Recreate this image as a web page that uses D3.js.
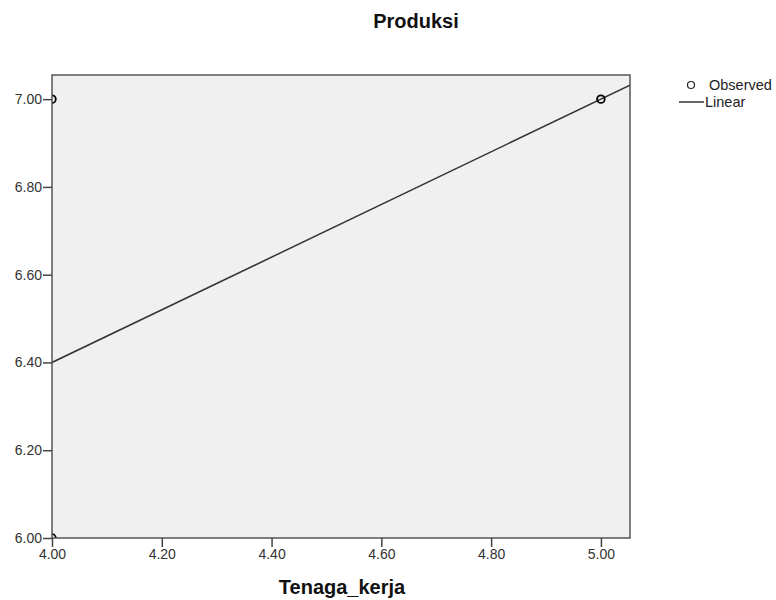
<!DOCTYPE html>
<html>
<head>
<meta charset="utf-8">
<script src="https://cdn.jsdelivr.net/npm/d3@7"></script>
<style>
  html, body { margin: 0; padding: 0; background: #fff; }
  svg { display: block; font-family: "Liberation Sans", Arial, sans-serif; }
</style>
</head>
<body>
<svg id="chart" width="776" height="600"></svg>
<script>
// ---- data ----
const chartTitle = "Produksi";
const xTitle = "Tenaga_kerja";
const xDomain = [4.0, 5.053];
const yDomain = [6.0, 7.055];
const xTicks = [4.0, 4.2, 4.4, 4.6, 4.8, 5.0];
const yTicks = [6.0, 6.2, 6.4, 6.6, 6.8, 7.0];
const observedX = [4, 4, 5];
const observedY = [7, 6, 7];
const linearIntercept = 4.0;
const linearSlope = 0.6;
const legendLabels = ["Observed", "Linear"];

// ---- layout ----
const svg = d3.select("#chart");
const plot = { left: 52, right: 630, top: 75, bottom: 538 };

const x = d3.scaleLinear().domain(xDomain).range([plot.left, plot.right]);
const y = d3.scaleLinear().domain(yDomain).range([plot.bottom, plot.top]);

svg.append("defs").append("clipPath").attr("id", "clip")
  .append("rect")
  .attr("x", plot.left).attr("y", plot.top)
  .attr("width", plot.right - plot.left).attr("height", plot.bottom - plot.top);

// background
svg.append("rect")
  .attr("x", plot.left).attr("y", plot.top)
  .attr("width", plot.right - plot.left).attr("height", plot.bottom - plot.top)
  .attr("fill", "#f0f0f0");

// fit line
const fitData = xDomain.map(v => [v, linearIntercept + linearSlope * v]);
svg.append("path")
  .datum(fitData)
  .attr("clip-path", "url(#clip)")
  .attr("fill", "none")
  .attr("stroke", "#333")
  .attr("stroke-width", 1.5)
  .attr("d", d3.line().x(d => x(d[0])).y(d => y(d[1])));

// observed points
svg.append("g").attr("clip-path", "url(#clip)")
  .selectAll("circle")
  .data(observedX.map((v, i) => [v, observedY[i]]))
  .join("circle")
  .attr("cx", d => x(d[0]))
  .attr("cy", d => y(d[1]))
  .attr("r", 3.8)
  .attr("fill", "none")
  .attr("stroke", "#000")
  .attr("stroke-width", 1.8);

// border
svg.append("rect")
  .attr("x", plot.left).attr("y", plot.top)
  .attr("width", plot.right - plot.left).attr("height", plot.bottom - plot.top)
  .attr("fill", "none")
  .attr("stroke", "#555")
  .attr("stroke-width", 1.5);

// axes
const fmt = d3.format(".2f");
const xAxis = svg.append("g")
  .attr("transform", `translate(0,${plot.bottom})`)
  .call(d3.axisBottom(x).tickValues(xTicks).tickFormat(fmt).tickSize(9).tickPadding(2));
const yAxis = svg.append("g")
  .attr("transform", `translate(${plot.left},0)`)
  .call(d3.axisLeft(y).tickValues(yTicks).tickFormat(fmt).tickSize(9).tickPadding(1));
[xAxis, yAxis].forEach(a => {
  a.select(".domain").remove();
  a.selectAll(".tick line").attr("stroke", "#444").attr("stroke-width", 1.5);
  a.selectAll(".tick text")
    .attr("fill", "#333")
    .style("font-family", "'Liberation Sans', Arial, sans-serif")
    .style("font-size", "14px");
});

// titles
svg.append("text")
  .attr("x", 416).attr("y", 28)
  .attr("text-anchor", "middle")
  .attr("font-weight", "bold")
  .attr("font-size", "20px")
  .attr("fill", "#111")
  .text(chartTitle);

svg.append("text")
  .attr("x", (plot.left + plot.right) / 2 + 1).attr("y", 594)
  .attr("text-anchor", "middle")
  .attr("font-weight", "bold")
  .attr("font-size", "20px")
  .attr("fill", "#111")
  .text(xTitle);

// legend
const lg = svg.append("g");
lg.append("circle")
  .attr("cx", 691).attr("cy", 85).attr("r", 3.5)
  .attr("fill", "none").attr("stroke", "#222").attr("stroke-width", 1.2);
lg.append("text")
  .attr("x", 709).attr("y", 90)
  .attr("font-size", "14.5px").attr("fill", "#222")
  .text(legendLabels[0]);
lg.append("line")
  .attr("x1", 679).attr("x2", 704).attr("y1", 102).attr("y2", 102)
  .attr("stroke", "#333").attr("stroke-width", 1.5);
lg.append("text")
  .attr("x", 705).attr("y", 107)
  .attr("font-size", "14.5px").attr("fill", "#222")
  .text(legendLabels[1]);
</script>
</body>
</html>
